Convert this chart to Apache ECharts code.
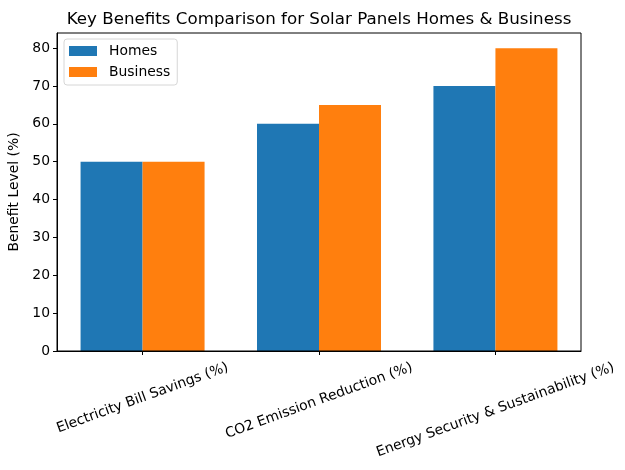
<!DOCTYPE html>
<html><head><meta charset="utf-8">
<script src="https://cdn.jsdelivr.net/npm/echarts@6/dist/echarts.min.js"></script>
<style>html,body{margin:0;padding:0;background:#fff}#c{width:625px;height:470px}</style>
</head><body><div id="c"></div>
<script>
const categories = ['Electricity Bill Savings (%)', 'CO2 Emission Reduction (%)', 'Energy Security & Sustainability (%)'];
const homes = [50, 60, 70];
const business = [50, 65, 80];
const yTicks = [0, 10, 20, 30, 40, 50, 60, 70, 80];

const font = 'DejaVu Sans';
const fs = 13.9;
const idx = categories.map((_, i) => i);

// matplotlib aligns the top of each rotated label's bounding box; emulate with per-label padding
const ctx = document.createElement('canvas').getContext('2d');
ctx.font = fs + 'px "' + font + '"';
const widths = categories.map(t => ctx.measureText(t).width);
const ang = 20 * Math.PI / 180;
const rich = {};
categories.forEach((t, i) => {
  const d = (widths[i] - widths[0]) * Math.sin(ang) / 2;
  const a = Math.abs(d);
  const pad = d >= 0 ? [2 * a * Math.cos(ang), 2 * a * Math.sin(ang), 0, 0]
                     : [0, 0, 2 * a * Math.cos(ang), 2 * a * Math.sin(ang)];
  rich['l' + i] = { fontFamily: font, fontSize: fs, color: '#000', padding: pad };
});

const chart = echarts.init(document.getElementById('c'));
chart.setOption({
  animation: false,
  title: {
    text: 'Key Benefits Comparison for Solar Panels Homes & Business',
    left: 314, top: 6, textAlign: 'center',
    textStyle: { fontFamily: font, fontSize: 16.7, fontWeight: 'normal', color: '#000' }
  },
  legend: {
    left: 64, top: 39, orient: 'vertical',
    itemWidth: 28, itemHeight: 10, itemGap: 5,
    padding: [4, 7, 5, 5],
    borderColor: '#d6d6d6', borderWidth: 1, borderRadius: 3,
    icon: 'rect',
    textStyle: { fontFamily: font, fontSize: fs, lineHeight: 16, color: '#000', padding: [0, 0, 0, 7] },
    data: ['Homes', 'Business']
  },
  grid: { left: 57, right: 44, top: 33, bottom: 119, outerBoundsMode: 'none', containLabel: false },
  xAxis: {
    type: 'value', min: -0.485, max: 2.485,
    splitLine: { show: false },
    axisLine: { onZero: false, lineStyle: { color: '#000', width: 1 } },
    axisTick: { show: true, customValues: idx, length: 4, lineStyle: { color: '#000' } },
    axisLabel: {
      customValues: idx,
      formatter: v => { const i = Math.round(v); return '{l' + i + '|' + categories[i] + '}'; },
      rich: rich,
      rotate: 20, align: 'center', verticalAlign: 'middle', margin: 47,
      fontFamily: font, fontSize: fs, color: '#000'
    }
  },
  yAxis: {
    type: 'value', min: 0, max: 84, interval: 10,
    name: 'Benefit Level (%)', nameLocation: 'middle', nameGap: 31,
    nameTextStyle: { fontFamily: font, fontSize: fs, color: '#000' },
    axisLine: { show: true, onZero: false, lineStyle: { color: '#000', width: 1 } },
    axisTick: { show: true, customValues: yTicks, length: 4, lineStyle: { color: '#000' } },
    axisLabel: {
      customValues: yTicks,
      fontFamily: font, fontSize: fs, color: '#000', margin: 7
    },
    splitLine: { show: false }
  },
  series: [
    { name: 'Homes', type: 'bar', data: homes.map((v, i) => [i, v]), barWidth: 62, barGap: '0%', itemStyle: { color: '#1f77b4' } },
    { name: 'Business', type: 'bar', data: business.map((v, i) => [i, v]), barWidth: 62, barGap: '0%', itemStyle: { color: '#ff7f0e' } }
  ],
  graphic: [
    { type: 'rect', shape: { x: 57, y: 33, width: 524, height: 318 }, style: { fill: 'none', stroke: '#000', lineWidth: 1 }, silent: true, z: 10 }
  ]
});
</script></body></html>
